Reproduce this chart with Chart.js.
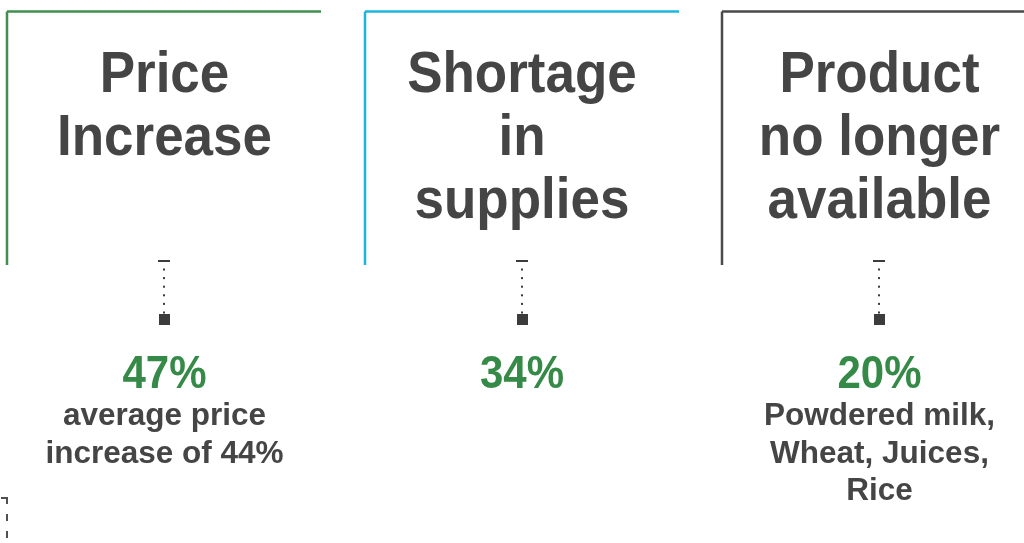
<!DOCTYPE html>
<html>
<head>
<meta charset="utf-8">
<script src="https://cdn.jsdelivr.net/npm/chart.js@4/dist/chart.umd.min.js"></script>
<style>
  html, body { margin: 0; padding: 0; background: #fff; }
  #wrap { width: 1024px; height: 543px; position: relative; }
</style>
</head>
<body>
<div id="wrap"><canvas id="infoChart"></canvas></div>
<script>
// data
const categories = [['Price', 'Increase'], ['Shortage', 'in', 'supplies'], ['Product', 'no longer', 'available']];
const percentages = [47, 34, 20];
const notes = [['average price', 'increase of 44%'], [], ['Powdered milk,', 'Wheat, Juices,', 'Rice']];
const frameColors = ['#3f8f4f', '#1cb6dd', '#4a4a4a'];

const FONT = '"Liberation Sans", Arial, Helvetica, sans-serif';
const TEXT = '#454545';
const GREEN = '#358a47';

// text slightly taller than Liberation's glyphs, like the original Helvetica
function tallText(ctx, t, x, y, sy) {
    ctx.save();
    ctx.translate(x, y);
    ctx.scale(1, sy);
    ctx.fillText(t, 0, 0);
    ctx.restore();
}

// draws the panels, connectors and labels at the column positions of the x scale
const infographic = {
    id: 'infographic',
    afterDraw(chart) {
        const ctx = chart.ctx;
        const xs = chart.scales.x;
        const ys = chart.scales.y;
        const Y = v => ys.getPixelForValue(v);
        ctx.save();
        ctx.textAlign = 'center';
        ctx.textBaseline = 'alphabetic';

        categories.forEach((lines, i) => {
            const cx = xs.getPixelForValue(i);
            const left = Math.round(cx - 157);

            // frame: top and left edges
            ctx.strokeStyle = frameColors[i];
            ctx.lineWidth = 2.5;
            ctx.beginPath();
            ctx.moveTo(left, Y(11.5));
            ctx.lineTo(left + 314, Y(11.5));
            ctx.moveTo(left, Y(11.5));
            ctx.lineTo(left, Y(265));
            ctx.stroke();

            // title
            ctx.fillStyle = TEXT;
            ctx.font = 'bold 53px ' + FONT;
            lines.forEach((t, k) => tallText(ctx, t, cx, Y(92 + k * 63), 1.1));

            // connector: dash, dotted stem, square
            ctx.fillStyle = '#3c3c3c';
            ctx.fillRect(Math.round(cx) - 6, Y(260), 12, 2);
            for (let d = 0; d < 6; d++) {
                ctx.fillRect(Math.round(cx) - 1, Y(268.5 + d * 8.6), 2, 2);
            }
            ctx.fillRect(Math.round(cx) - 5, Y(314), 11, 11);

            // percentage
            ctx.fillStyle = GREEN;
            ctx.font = 'bold 42px ' + FONT;
            tallText(ctx, percentages[i] + '%', cx, Y(388), 1.08);

            // note lines
            ctx.fillStyle = TEXT;
            ctx.font = 'bold 31.5px ' + FONT;
            notes[i].forEach((t, k) => ctx.fillText(t, cx, Y(425 + k * 37.5)));
        });

        // dashed stub at bottom left (start of the next element)
        const lx = Math.round(xs.getPixelForValue(0) - 157);
        ctx.strokeStyle = '#505050';
        ctx.lineWidth = 2;
        ctx.beginPath();
        ctx.moveTo(lx - 6, Y(498));
        ctx.lineTo(lx + 1, Y(498));
        ctx.stroke();
        ctx.setLineDash([7, 10]);
        ctx.beginPath();
        ctx.moveTo(lx, Y(497));
        ctx.lineTo(lx, Y(543));
        ctx.stroke();
        ctx.restore();
    }
};

new Chart(document.getElementById('infoChart'), {
    type: 'scatter',
    data: {
        datasets: [{
            data: percentages.map((p, i) => ({ x: i, y: p })),
            pointRadius: 0,
            showLine: false
        }]
    },
    options: {
        responsive: true,
        maintainAspectRatio: false,
        animation: false,
        events: [],
        layout: { padding: 0 },
        plugins: { legend: { display: false }, tooltip: { enabled: false } },
        scales: {
            x: { type: 'linear', display: false, min: -0.4601, max: 2.4042 },
            y: { type: 'linear', display: false, min: 0, max: 543, reverse: true }
        }
    },
    plugins: [infographic]
});
</script>
</body>
</html>
